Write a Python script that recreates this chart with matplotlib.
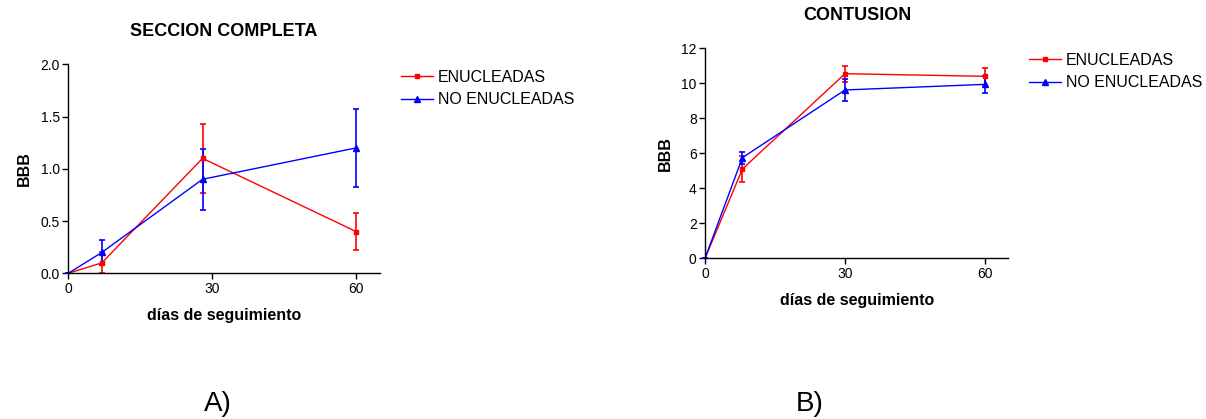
import matplotlib
matplotlib.use("Agg")
import matplotlib.pyplot as plt
from matplotlib.lines import Line2D

plt.rcParams['font.family'] = ['Liberation Sans', 'DejaVu Sans']

# Panel A: sección completa
days_a = [0, 7, 28, 60]
enu_a = [0.0, 0.1, 1.1, 0.4]
enu_a_err = [0.0, 0.1, 0.33, 0.18]
noenu_a = [0.0, 0.2, 0.9, 1.2]
noenu_a_err = [0.0, 0.12, 0.29, 0.37]

# Panel B: contusión
days_b = [0, 8, 30, 60]
enu_b = [0.0, 5.1, 10.55, 10.4]
enu_b_err = [0.0, 0.75, 0.45, 0.5]
noenu_b = [0.0, 5.75, 9.62, 9.94]
noenu_b_err = [0.0, 0.35, 0.62, 0.5]

series_labels = ["ENUCLEADAS", "NO ENUCLEADAS"]
x_ticks = [0, 30, 60]
RED = "#FF0000"
BLUE = "#0000FF"

fig = plt.figure(figsize=(12.06, 4.19), dpi=100)
ax_a = fig.add_axes([0.0566, 0.3477, 0.2585, 0.4988])
ax_b = fig.add_axes([0.5846, 0.3835, 0.2515, 0.5012])


def draw(ax, days, e, ee, n, ne, ylim, yticks, yfmt, title, title_xy, legend_anchor):
    marked = list(range(1, len(days)))
    ax.errorbar(days, e, yerr=ee, color=RED, marker='s', markersize=3.2,
                markevery=marked, linewidth=1, elinewidth=1.2, capsize=2.5,
                capthick=1.2, clip_on=False)
    ax.errorbar(days, n, yerr=ne, color=BLUE, marker='^', markersize=3.8,
                markevery=marked, linewidth=1, elinewidth=1.2, capsize=2.5,
                capthick=1.2, clip_on=False)
    ax.set_xlim(0, 65)
    ax.set_ylim(*ylim)
    ax.set_xticks(x_ticks)
    ax.set_yticks(yticks)
    ax.set_yticklabels([yfmt.format(v) for v in yticks])
    for s in ('top', 'right'):
        ax.spines[s].set_visible(False)
    for s in ('left', 'bottom'):
        ax.spines[s].set_linewidth(1)
    ax.tick_params(direction='out', length=4, width=1, labelsize=10, pad=2)
    ax.set_xlabel("días de seguimiento", fontsize=11.5, fontweight='bold', labelpad=9)
    ax.set_ylabel("BBB", fontsize=11.5, fontweight='bold', labelpad=6)
    fig.text(title_xy[0] / 1206, 1 - title_xy[1] / 419, title, fontsize=13,
             fontweight='bold', ha='center', va='center')
    handles = [
        Line2D([], [], color=RED, marker='s', markersize=3.2, linewidth=1),
        Line2D([], [], color=BLUE, marker='^', markersize=3.8, linewidth=1),
    ]
    ax.legend(handles, series_labels, loc='upper left', bbox_to_anchor=legend_anchor,
              bbox_transform=fig.transFigure, frameon=False, fontsize=11.5,
              handlelength=2.0, handletextpad=0.3, labelspacing=0.45,
              borderpad=0, borderaxespad=0)


draw(ax_a, days_a, enu_a, enu_a_err, noenu_a, noenu_a_err,
     (0, 2.0), [0.0, 0.5, 1.0, 1.5, 2.0], "{:.1f}", "SECCION COMPLETA",
     (224, 31), (401 / 1206, 1 - 70 / 419))
draw(ax_b, days_b, enu_b, enu_b_err, noenu_b, noenu_b_err,
     (0, 12), [0, 2, 4, 6, 8, 10, 12], "{:d}", "CONTUSION",
     (857, 15), (1029 / 1206, 1 - 53 / 419))

fig.text(218 / 1206, 1 - 404 / 419, "A)", fontsize=20, ha='center', va='center')
fig.text(810 / 1206, 1 - 404 / 419, "B)", fontsize=20, ha='center', va='center')

fig.savefig("out.png", dpi=100)
